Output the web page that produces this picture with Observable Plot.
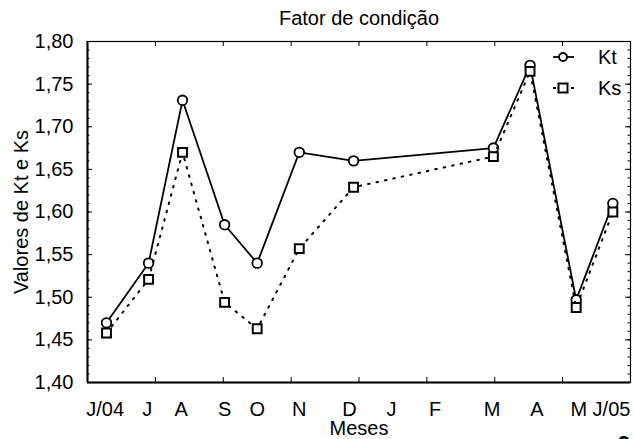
<!DOCTYPE html>
<html><head><meta charset="utf-8">
<script src="https://cdn.jsdelivr.net/npm/d3@7"></script>
<script src="https://cdn.jsdelivr.net/npm/@observablehq/plot@0.6"></script>
<style>
body{margin:0;background:#fff;}
#chart{position:relative;width:634px;height:439px;overflow:hidden;font-family:"Liberation Sans",Arial,sans-serif;}
</style>
</head><body><div id="chart"></div>
<script>
// Month tick labels and their positions (days from start of sampling)
const monthLabels = ["J/04","J","A","S","O","N","D","J","F","M","A","M","J/05"];
const monthDays   = [13, 44, 69, 101, 125, 156, 193, 224, 256, 298, 331, 362, 386];
// Sampling days
const sampleDays  = [14, 45, 70, 101, 125, 156, 196, 299, 326, 360, 387];
// Series
const ktValues = [1.470, 1.540, 1.731, 1.585, 1.540, 1.670, 1.660, 1.675, 1.772, 1.497, 1.610];
const ksValues = [1.458, 1.521, 1.670, 1.494, 1.463, 1.557, 1.629, 1.665, 1.765, 1.488, 1.600];
const yTicks = [1.40,1.45,1.50,1.55,1.60,1.65,1.70,1.75,1.80];

const W=634, H=439, mT=41, mB=57, mL=87, mR=4;
const pw = W-mL-mR, ph = H-mT-mB;
const FS = 20;
const fmt = d => d.toFixed(2).replace(".", ",");
const yMinor = d3.range(0, 41).map(i => +(1.4 + i*0.01).toFixed(2));
const xMajor = d3.range(0, 401, 50);

const kt = sampleDays.map((d,i) => ({day:d, v:ktValues[i]}));
const ks = sampleDays.map((d,i) => ({day:d, v:ksValues[i]}));
const months = monthLabels.map((m,i) => ({label:m, day:monthDays[i]}));

const plot = Plot.plot({
  width: W, height: H,
  marginTop: mT, marginBottom: mB, marginLeft: mL, marginRight: mR,
  style: {fontFamily: '"Liberation Sans", Arial, sans-serif', fontSize: FS + "px", color: "black", background: "white", overflow: "visible"},
  x: {domain: [0, 400], axis: null},
  y: {domain: [1.4, 1.8], axis: null},
  marks: [
    Plot.tickY(yMinor, {y: d => d, insetRight: pw-2.5, stroke: "black", strokeWidth: 1}),
    Plot.tickY(yMinor, {y: d => d, insetLeft: pw-2.5, stroke: "black", strokeWidth: 1}),
    Plot.tickY(yTicks, {y: d => d, insetRight: pw-5, stroke: "black", strokeWidth: 1}),
    Plot.tickY(yTicks, {y: d => d, insetLeft: pw-5, stroke: "black", strokeWidth: 1}),
    Plot.tickX(xMajor, {x: d => d, insetTop: ph-5, stroke: "black", strokeWidth: 1}),
    Plot.tickX(xMajor, {x: d => d, insetBottom: ph-5, stroke: "black", strokeWidth: 1}),
    Plot.frame({stroke: "black", strokeWidth: 1.2}),
    Plot.ruleY([1.4], {stroke: "black", strokeWidth: 2}),
    Plot.ruleX([0], {stroke: "black", strokeWidth: 2}),
    Plot.text(yTicks, {y: d => d, text: fmt, frameAnchor: "left", textAnchor: "end", lineAnchor: "middle", dx: -14, fontSize: FS}),
    Plot.text(months, {x: "day", text: "label", frameAnchor: "bottom", textAnchor: "middle", lineAnchor: "middle", dy: 27, fontSize: FS}),
    Plot.text(["Meses"], {text: d => d, frameAnchor: "bottom", textAnchor: "middle", lineAnchor: "middle", dy: 46, fontSize: FS}),
    Plot.text(["Valores de Kt e Ks"], {text: d => d, frameAnchor: "left", textAnchor: "middle", lineAnchor: "middle", rotate: -90, dx: -66, fontSize: FS}),
    Plot.text(["Fator de condição"], {text: d => d, frameAnchor: "top", textAnchor: "middle", lineAnchor: "middle", dy: -23, fontSize: FS}),
    Plot.line(kt, {x: "day", y: "v", stroke: "black", strokeWidth: 1.8}),
    Plot.dot(kt, {x: "day", y: "v", r: 4.8, fill: "white", stroke: "black", strokeWidth: 1.8}),
    Plot.line(ks, {x: "day", y: "v", stroke: "black", strokeWidth: 2, strokeDasharray: "1.6,7"}),
    Plot.dot(ks, {x: "day", y: "v", symbol: "square", r: 5, fill: "white", stroke: "black", strokeWidth: 2})
  ]
});
document.getElementById("chart").appendChild(plot);

// Legend
const svg = d3.select(plot);
const lg = svg.append("g").attr("text-anchor", "start");
const ly1 = 57, ly2 = 88, lx0 = 553, lx1 = 574, lc = 563;
lg.append("line").attr("x1", lx0).attr("x2", lx1).attr("y1", ly1).attr("y2", ly1).attr("stroke", "black").attr("stroke-width", 1.8);
lg.append("circle").attr("cx", lc).attr("cy", ly1).attr("r", 4).attr("fill", "white").attr("stroke", "black").attr("stroke-width", 1.8);
lg.append("text").attr("x", 598).attr("y", ly1).attr("dy", "0.35em").attr("font-size", FS).text("Kt");
lg.append("line").attr("x1", lx0).attr("x2", lx1).attr("y1", ly2).attr("y2", ly2).attr("stroke", "black").attr("stroke-width", 2).attr("stroke-dasharray", "3,15");
lg.append("rect").attr("x", lc-4.5).attr("y", ly2-4.5).attr("width", 9).attr("height", 9).attr("fill", "white").attr("stroke", "black").attr("stroke-width", 2);
lg.append("text").attr("x", 598).attr("y", ly2).attr("dy", "0.35em").attr("font-size", FS).text("Ks");
// page number, cut off at the bottom edge as in the reference
svg.append("text").attr("x", 624).attr("y", 451).attr("text-anchor", "middle").attr("font-size", 22).attr("font-weight", "bold").text("9");
</script>
</body></html>
